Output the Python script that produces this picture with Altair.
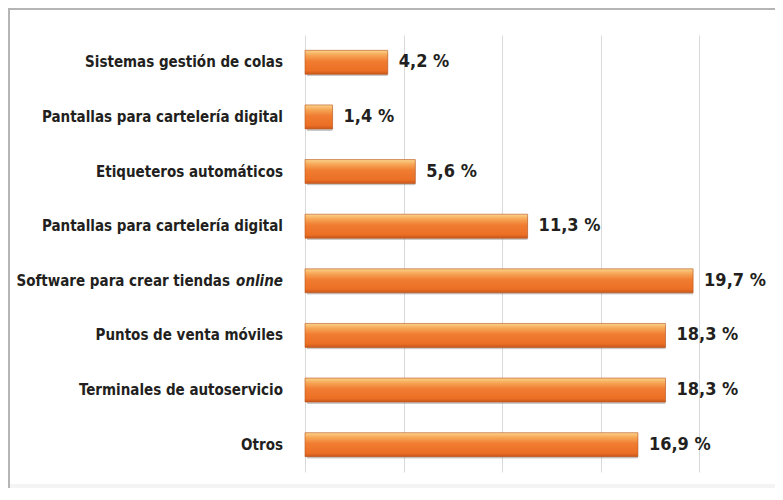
import altair as alt
import pandas as pd

# ---- data ----
labels_main = [
    "Sistemas  gestión de colas",
    "Pantallas para cartelería digital",
    "Etiqueteros automáticos",
    "Pantallas para cartelería digital",
    "Software para crear tiendas",
    "Puntos de venta móviles",
    "Terminales de autoservicio",
    "Otros",
]
labels_italic = ["", "", "", "", "online", "", "", ""]
values = [4.2, 1.4, 5.6, 11.3, 19.7, 18.3, 18.3, 16.9]
grid_values = [0, 5, 10, 15, 20]

df = pd.DataFrame({
    "idx": list(range(len(values))),
    "label": labels_main,
    "italic": labels_italic,
    "value": values,
    "vlabel": [f"{v:.1f}".replace(".", ",") + " %" for v in values],
})
df["plain"] = df.apply(lambda r: r["label"] if r["italic"] == "" else "", axis=1)
df["mixed"] = df.apply(lambda r: r["label"] if r["italic"] != "" else "", axis=1)

FONT = "DejaVu Sans Condensed, Roboto, sans-serif"
TXT = "#231f20"
FS = 15

W, H = 394, 437

base = alt.Chart(df)
y_enc = alt.Y("idx:O", axis=None,
              scale=alt.Scale(paddingInner=0.1, paddingOuter=0.05))
x_scale = alt.Scale(domain=[0, 20], nice=False, zero=True)

grid = base.mark_bar(opacity=0).encode(
    x=alt.X("value:Q", scale=x_scale, title=None,
            axis=alt.Axis(values=grid_values, grid=True, gridColor="#d9d9d9",
                          gridWidth=1, labels=False, ticks=False, domain=False)),
    y=y_enc,
)

shadow = base.mark_bar(size=24, color="#8a8a8a", opacity=0.45,
                       xOffset=2, yOffset=2, cornerRadius=1).encode(
    x=alt.X("value:Q", scale=x_scale), y=y_enc)

grad = alt.Gradient(
    gradient="linear", x1=0, x2=0, y1=0, y2=1,
    stops=[
        alt.GradientStop(color="#fbd38a", offset=0),
        alt.GradientStop(color="#f6a656", offset=0.2),
        alt.GradientStop(color="#f07d32", offset=0.45),
        alt.GradientStop(color="#eb6f25", offset=0.85),
        alt.GradientStop(color="#c9561a", offset=1),
    ],
)
bars = base.mark_bar(size=24, color=grad, stroke="#b8541c",
                     strokeWidth=0.6).encode(
    x=alt.X("value:Q", scale=x_scale), y=y_enc)

vtext = base.mark_text(align="left", baseline="middle", dx=11, font=FONT,
                       fontSize=18, fontWeight="bold", color=TXT).encode(
    x=alt.X("value:Q", scale=x_scale), y=y_enc, text="vlabel:N")

cat_plain = base.mark_text(align="right", baseline="middle", font=FONT,
                           fontSize=FS, fontWeight="bold", color=TXT).encode(
    x=alt.value(-22), y=y_enc, text="plain:N")

cat_italic = base.mark_text(align="right", baseline="middle", font=FONT,
                            fontSize=FS, fontWeight="bold", fontStyle="italic",
                            color=TXT).encode(
    x=alt.value(-22), y=y_enc, text="italic:N")

cat_mixed = base.mark_text(align="right", baseline="middle", font=FONT,
                           fontSize=FS, fontWeight="bold", color=TXT).encode(
    x=alt.value(-75), y=y_enc, text="mixed:N")

one = alt.Chart(pd.DataFrame({"a": [0]}))
frame_top = one.mark_rule(color="#b5b5b5", strokeWidth=2).encode(
    x=alt.value(-297), x2=alt.value(470), y=alt.value(-26))
frame_left = one.mark_rule(color="#b5b5b5", strokeWidth=2).encode(
    x=alt.value(-296), y=alt.value(-27), y2=alt.value(460))
band = one.mark_rect(color="#f4f4f4").encode(
    x=alt.value(-295), x2=alt.value(470), y=alt.value(449), y2=alt.value(456))
band_line = one.mark_rule(color="#dcdcdc", strokeWidth=1.5).encode(
    x=alt.value(-295), x2=alt.value(470), y=alt.value(456))

chart = alt.layer(
    band, band_line, frame_top, frame_left,
    grid, shadow, bars, vtext, cat_plain, cat_italic, cat_mixed,
).properties(
    width=W, height=H,
    padding={"left": 297, "top": 27, "right": 76, "bottom": 16},
    autosize=alt.AutoSizeParams(type="none"),
    background="white",
).configure_view(stroke=None)

chart.save("out.html", embed_options={"renderer": "svg", "actions": False})
